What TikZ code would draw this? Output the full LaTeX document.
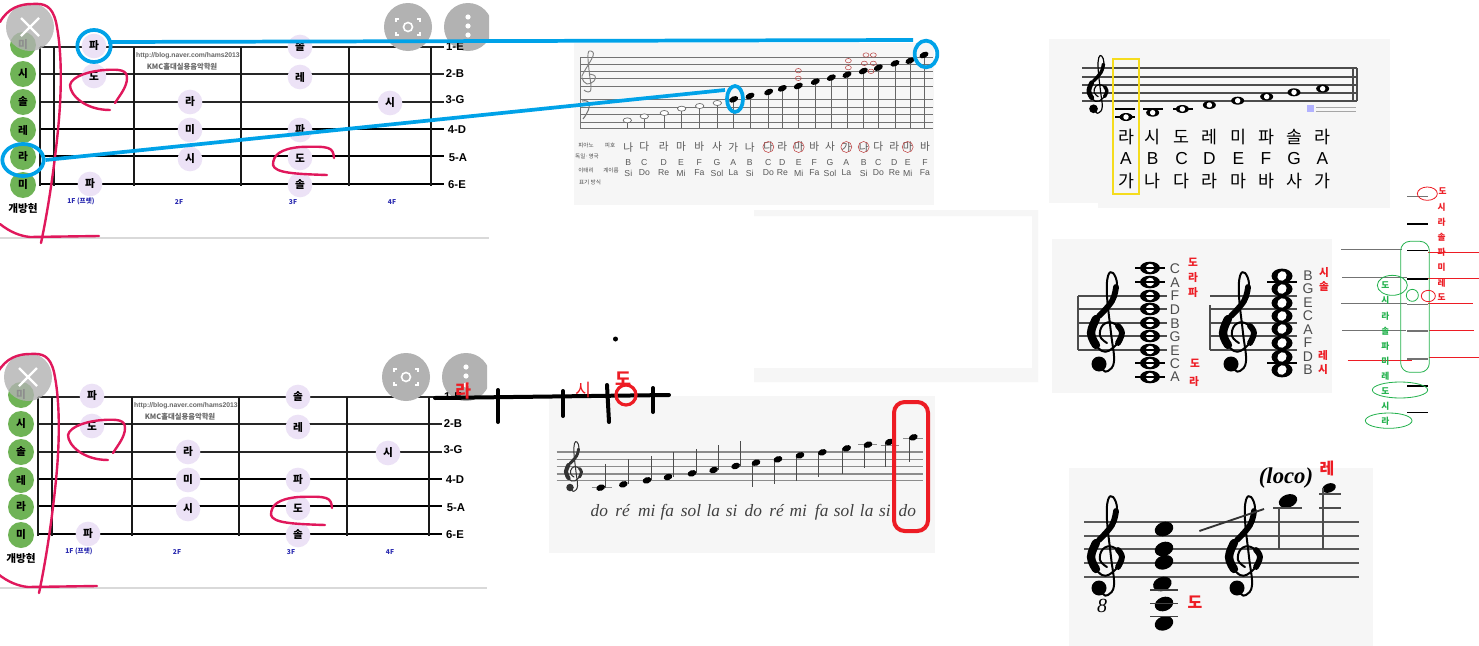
\documentclass[tikz,border=0pt]{standalone}
\usepackage{fontspec}
\setmainfont{Liberation Sans}
\newfontfamily\kr{Noto Sans CJK KR}
\newfontfamily\srf{Liberation Serif}
\usetikzlibrary{shapes.geometric}
\definecolor{pinkpen}{HTML}{E0185C}
\definecolor{bluepen}{HTML}{00A2E8}
\definecolor{redpen}{HTML}{ED1C24}
\definecolor{greenpen}{HTML}{22B14C}
\definecolor{lav}{HTML}{ECE2F6}
\definecolor{opengreen}{HTML}{6FB356}
\definecolor{panel}{HTML}{F6F6F6}
\definecolor{btn}{HTML}{B2B2B2}
\definecolor{fretblue}{HTML}{2A2AB0}
\tikzset{
  strthin/.style={line width=0.9pt,black!85},
  strthick/.style={line width=1.5pt,black},
  fretline/.style={line width=1pt,black!90},
  opennote/.style={circle,fill=opengreen,minimum size=19.5pt,inner sep=0pt,font=\kr\bfseries\fontsize{8}{8}\selectfont},
  frnote/.style={circle,fill=lav,minimum size=18.5pt,inner sep=0pt,font=\kr\bfseries\fontsize{8}{8}\selectfont},
  strlab/.style={inner sep=0pt,font=\bfseries\fontsize{8.5}{9}\selectfont},
  fretlab/.style={inner sep=0pt,text=fretblue,font=\kr\bfseries\fontsize{5}{5}\selectfont},
  pinkstroke/.style={draw=pinkpen,line width=1.8pt,line cap=round,line join=round},
  bluestroke/.style={draw=bluepen,line width=2.8pt},
  bluering/.style={ellipse,draw=bluepen,line width=2.8pt,inner sep=0pt},
  button/.style={circle,fill=btn,minimum size=36pt,inner sep=0pt},
  blackstroke/.style={draw=black,line width=3pt,line cap=round},
  rednote/.style={inner sep=0pt,text=redpen,font=\kr\bfseries\fontsize{8.5}{9}\selectfont},
  greennote/.style={inner sep=0pt,text=greenpen,font=\kr\bfseries\fontsize{7}{7}\selectfont},
  hand/.style={inner sep=0pt,text=black!65,font=\kr\fontsize{8}{8}\selectfont},
  handtiny/.style={inner sep=0pt,text=black!70,font=\kr\fontsize{4.2}{4.2}\selectfont},
  handl/.style={inner sep=0pt,text=black!65,font=\fontsize{6.5}{7}\selectfont},
  solfa/.style={inner sep=0pt,anchor=base,text=black!75,font=\srf\itshape\fontsize{13}{13}\selectfont},
  krbig/.style={inner sep=0pt,font=\kr\fontsize{13}{13}\selectfont},
  latbig/.style={inner sep=0pt,font=\fontsize{13}{13}\selectfont},
  lets/.style={inner sep=0pt,text=black!70,font=\fontsize{10.5}{11}\selectfont}
}
% treble clef drawn as a shape: #1,#2 centre, #3 scale (1 = 100 px tall), #4 colour
\newcommand{\gclef}[4]{%
\begin{scope}[shift={(#1,#2)},scale=#3,line cap=round,line join=round,draw=#4,fill=#4]
 \draw[line width=#3*1.5pt] plot[smooth,tension=.7] coordinates {(-6,41) (-2,47) (3,48) (9,38) (6,10) (2,-27) (3,-47) (8,-50) (12,-38) (7,-22) (-10,-3) (-15,10) (-3,28) (10,23) (17,10) (8,0) (-2,2) (-5,13) (2,20)};
 \draw[line width=#3*4.4pt] plot[smooth,tension=.7] coordinates {(11,-36) (7,-22) (-6,-7)};
 \draw[line width=#3*6.2pt] plot[smooth,tension=.7] coordinates {(-9,-4) (-14,10) (-9,22)};
 \draw[line width=#3*4.4pt] plot[smooth,tension=.7] coordinates {(13,20) (17,10) (13,3)};
 \fill (-6,41) circle (7.5);
\end{scope}}
% whole note: #1,#2 centre, #3,#4 half axes
\newcommand{\wn}[4]{%
 \fill[black] (#1,#2) ellipse (#3 and #4);
 \fill[white,rotate around={-35:(#1,#2)}] (#1,#2) ellipse ({#3*.42} and {#4*.68});}
\newcommand{\fretboard}[3]{%
\begin{scope}[shift={(#2,#3)}]
 \foreach \y in {47,74,102} \draw[strthin] (40,\y) -- (444,\y);
 \foreach \y in {129,156,184} \draw[strthick] (40,\y) -- (444,\y);
 \foreach \x in {40,54,134,241,349,431} \draw[fretline] (\x,47) -- (\x,186);
 \foreach \y/\t [count=\i] in {45/미,74/시,102/솔,130/레,157/라,185/미}
   \node[opennote] (#1o\i) at (23,\y) {\t};
 \foreach \x/\y/\t [count=\i] in {94/46/파,94/76/도,300/47/솔,300/77/레,190/102/라,390/103/시,190/130/미,300/130/파,190/159/시,300/158/도,90/184/파,300/185/솔}
   \node[frnote] (#1f\i) at (\x,\y) {\t};
 \node[inner sep=0pt,text=black!60,font=\bfseries\fontsize{5.1}{6}\selectfont] (#1url) at (188,56) {http://blog.naver.com/hams2013};
 \node[inner sep=0pt,text=black!60,font=\kr\bfseries\fontsize{5.5}{6}\selectfont] (#1kmc) at (182,67) {KMC홀대실용음악학원};
 \node[inner sep=0pt,font=\kr\bfseries\fontsize{8}{8}\selectfont] (#1open) at (23,208) {개방현};
 \node[fretlab] (#1a) at (81,201) {1F (프렛)};
 \node[fretlab] (#1b) at (179,202) {2F};
 \node[fretlab] (#1c) at (293,202) {3F};
 \node[fretlab] (#1d) at (392,202) {4F};
 \draw[black!15,line width=1pt] (0,238) -- (489,238);
 \node[button,fill opacity=0.8] (#1x) at (30,27) {};
 \draw[white,line width=1.6pt] (21,18) -- (39,36) (39,18) -- (21,36);
 \node[button] (#1lens) at (408,27) {};
 \draw[white,line width=1.2pt] (399,19) -- (396,19) -- (396,22) (417,19) -- (420,19) -- (420,22) (399,35) -- (396,35) -- (396,32) (417,35) -- (420,35) -- (420,32);
 \draw[white,line width=1.2pt] (408,27) circle (4.5);
 \begin{scope}
  \clip (440,0) rectangle (489,60);
  \node[button] (#1more) at (468,27) {};
 \end{scope}
 \fill[white] (468,17) circle (2.6) (468,26) circle (2.6) (468,35) circle (2.6);
 \foreach \y/\t/\x [count=\i] in {47/1-E/455,74/2-B/455,100/3-G/455,130/4-D/457,158/5-A/458,185/6-E/457}
   \node[strlab,anchor=center] (#1s\i) at (\x,\y) {\t};
 \draw[pinkstroke] (0,22) .. controls (8,8) and (20,4) .. (32,4) .. controls (45,3) and (52,6) .. (56,22) .. controls (62,50) and (62,90) .. (58,130) .. controls (54,170) and (48,210) .. (41,243);
 \draw[pinkstroke] (0,224) .. controls (10,232) and (20,236) .. (30,237) -- (99,236);
 \draw[pinkstroke] (115,103) .. controls (120,95) and (127,87) .. (127,78) .. controls (127,70) and (120,69) .. (105,70) .. controls (90,71) and (72,76) .. (70,85) .. controls (70,95) and (85,110) .. (110,110);
 \draw[pinkstroke] (334,158) .. controls (333,147) and (330,146) .. (300,147) .. controls (280,149) and (273,155) .. (273,165) .. controls (275,173) and (295,174) .. (327,175);
\end{scope}}
\begin{document}
\begin{tikzpicture}[x=0.75pt,y=-0.75pt]
\useasboundingbox (0,0) rectangle (1479,646);
\fill[white] (0,0) rectangle (1479,646);
% pale frame
\fill[panel] (754,210) rectangle (1038,216) (1032,210) rectangle (1038,382) (754,368) rectangle (1038,382);
% panels
\fill[panel] (574,43) rectangle (934,205);
\fill[panel] (1049,39) rectangle (1390,208);
\fill[white] (1049,203) rectangle (1098,212);
\fill[panel] (1052,239) rectangle (1332,393);
\fill[panel] (549,396) rectangle (935,553);
\fill[panel] (1069,468) rectangle (1373,646);
% fretboards
\fretboard{t}{0}{0}
\fretboard{b}{-2}{350}
% handwritten staves
\foreach \y in {57,64,71,78,86,99,107,114,122,128} \draw[black!55,line width=0.5pt] (580,\y) -- (933,\y);
\draw[black!55,line width=0.5pt] (580,57) -- (580,128);
\begin{scope}[line width=.5pt]
\draw[black!50,line width=.7pt] plot[smooth,tension=.7] coordinates {(584,90) (588,92) (591,88) (589,70) (588,54) (591,51) (593,56) (584,72) (582,78) (587,84) (594,81) (595,76) (589,74)};
\end{scope}
\draw[black!55,line width=.8pt] (582,101) .. controls (590,99) and (593,106) .. (583,119);
\fill[black!55] (584,104) circle (1.5);
\foreach \x/\y in {172/271,223/259,283/249,335/236,389/228,442/219} {
  \draw[black!60,line width=0.4pt] ({570+\x/3},{30+\y/3}) -- ({570+\x/3},128);
  \draw[black!60,line width=0.5pt,fill=white] ({570+\x/3},{30+\y/3}) ellipse (4.2 and 2.5);}
\foreach \x/\y in {491/208,540/198,596/186,637/175,685/168,736/155,784/143,831/134,880/123,925/113,975/100,1020/92,1062/75} {
  \draw[black!60,line width=0.4pt] ({570+\x/3},{30+\y/3}) -- ({570+\x/3},128);
  \fill[black,rotate around={25:({570+\x/3},{30+\y/3})}] ({570+\x/3},{30+\y/3}) ellipse (4.8 and 2.9);}
\foreach \x/\y in {685/122,685/145,835/92,835/113,888/75,883/100,910/75,910/100,903/124}
  \draw[red!45!gray,line width=0.4pt] ({570+\x/3},{30+\y/3}) ellipse (3 and 2.2);
\foreach \x/\a/\b/\c [count=\i] in {175/나/B/Si,223/다/C/Do,281/라/D/Re,333/마/E/Mi,388/바/F/Fa,441/사/G/Sol,490/가/A/La,539/나/B/Si,595/다/C/Do,637/라/D/Re,686/마/E/Mi,733/바/F/Fa,780/사/G/Sol,829/가/A/La,881/나/B/Si,925/다/C/Do,973/라/D/Re,1013/마/E/Mi,1065/바/F/Fa} {
  \node[hand] (ha\i) at ({570+\x/3},147) {\a};
  \node[handl] (hb\i) at ({570+\x/3},163) {\b};
  \node[handl] (hc\i) at ({570+\x/3},173) {\c};}
\node[handtiny] (hl1) at (586,145) {피아노};
\node[handtiny] (hl2) at (610,145) {피호};
\node[handtiny] (hl3) at (587,156) {독일·영국};
\node[handtiny] (hl4) at (586,170) {이태리};
\node[handtiny] (hl5) at (611,170) {계이름};
\node[handtiny] (hl6) at (590,182) {표기 방식};
\foreach \x in {595,686,829,881,1013} \draw[red!50!gray,line width=0.4pt] ({570+\x/3},147) circle (5.5);
% top right scale
\foreach \y in {68,77,85,93,101} \draw[black!70,line width=1.1pt] (1082,\y) -- (1357,\y);
\draw[black!70,line width=.8pt] (1353,68) -- (1353,101); \draw[black!70,line width=1.6pt] (1357,68) -- (1357,101);
\gclef{1097}{85}{.58}{black}
\draw[black,line width=.9pt] (1115,109) -- (1135,109) (1143,109) -- (1163,109) (1173,109) -- (1193,109) (1115,117) -- (1135,117);
\foreach \x/\y in {258/261,338/248,427/237,508/225,593/212,680/200,762/187,848/176}
  \wn{{1040+\x/3}}{{30+\y/3}}{6.5}{4};
\fill[blue!30] (1307,105) rectangle (1314,112);
\foreach \y in {107,111} \draw[black!35,line width=.4pt] (1316,\y) -- (1356,\y);
\foreach \x/\a/\b/\c [count=\i] in {258/라/A/가,338/시/B/나,425/도/C/다,508/레/D/라,595/미/E/마,678/파/F/바,762/솔/G/사,847/라/A/가} {
  \node[krbig] (sa\i) at ({1040+\x/3},137) {\a};
  \node[latbig] (sb\i) at ({1040+\x/3},159) {\b};
  \node[krbig] (sc\i) at ({1040+\x/3},181) {\c};}
\draw[draw={rgb,255:red,245;green,220;blue,30},line width=1.2pt] (1113,59) rectangle (1139,194);
% middle right staves
\foreach \y in {296,309,323,336,350} \draw[black!70,line width=1.2pt] (1078,\y) -- (1167,\y);
\draw[black!70,line width=1.2pt] (1078,296) -- (1078,350);
\foreach \y in {296,309,323,336,350} \draw[black!70,line width=1.2pt] (1210,\y) -- (1297,\y);
\draw[black!70,line width=1.2pt] (1210,305) -- (1210,350);
\gclef{1105}{323}{1}{black}
\gclef{1237}{323}{1}{black}
\foreach \y in {268,282,363,377} \draw[black,line width=1pt] (1135,\y) -- (1165,\y);
\foreach \y in {282,363} \draw[black,line width=1pt] (1267,\y) -- (1297,\y);
\foreach \y in {268,282,296,309,323,336,350,363,377} {\wn{1150}{\y}{10}{6.3}\draw[black,line width=.8pt] (1140,\y) -- (1160,\y);}
\foreach \y in {276,289,303,316,329,343,357,370} \wn{1282}{\y}{10.5}{7.4};
\foreach \t/\y [count=\i] in {C/269,A/283,F/296,D/310,B/324,G/337,E/351,C/364,A/377} \node[lets] (la\i) at (1175,\y) {\t};
\foreach \t/\y [count=\i] in {B/276,G/289,E/303,C/316,A/330,F/343,D/357,B/370} \node[lets] (lb\i) at (1308,\y) {\t};
\foreach \t/\x/\y [count=\i] in {도/1193/262,라/1193/278,파/1193/293,도/1195/363,라/1194/382,시/1324/273,솔/1324/287,레/1323/355,시/1323/370}
  \node[rednote,font=\kr\bfseries\fontsize{8}{8}\selectfont] (rr\i) at (\x,\y) {\t};
% far right
\foreach \y/\c in {50/black!55,132/black,212/black,297/black,373/black!55,453/black!55,537/black!55,618/black,698/black}
  \draw[\c,line width=1.2pt] ({1330+232/3},{180+\y/3}) -- ({1330+295/3},{180+\y/3});
\foreach \a/\y/\b in {33/208/215,36/292/232,33/370/232,36/450/228}
  \draw[black!55,line width=.6pt] ({1330+\a/3},{180+\y/3}) -- ({1330+\b/3},{180+\y/3});
\foreach \a/\y/\b in {295/216/447,295/295/447,295/370/428,298/450/432,298/532/447,53/541/245}
  \draw[redpen,line width=.7pt] ({1330+\a/3},{180+\y/3}) -- ({1330+\b/3},{180+\y/3});
\draw[greenpen,line width=.6pt,rounded corners=7pt] ({1330+212/3},{180+184/3}) rectangle ({1330+298/3},{180+577/3});
\foreach \x/\y/\w/\h [count=\i] in {187/316/45/30,247/346/18/18,210/630/83/24,176/722/70/23}
  \draw[greenpen,line width=.6pt] ({1330+\x/3},{180+\y/3}) ellipse ({\w/3} and {\h/3});
\foreach \x/\y/\w/\h in {292/41/30/20,295/348/21/17}
  \draw[redpen,line width=.6pt] ({1330+\x/3},{180+\y/3}) ellipse ({\w/3} and {\h/3});
\foreach \t/\x/\y [count=\i] in {도/338/33,시/335/82,라/335/127,솔/335/173,파/335/218,미/335/263,레/335/310,도/335/350}
  \node[rednote,font=\kr\bfseries\fontsize{6.5}{7}\selectfont] (fr\i) at ({1330+\x/3},{180+\y/3}) {\t};
\foreach \t/\y [count=\i] in {도/316,시/362,라/408,솔/455,파/500,미/545,레/590,도/632,시/679,라/725}
  \node[greennote,font=\kr\bfseries\fontsize{6.5}{7}\selectfont] (fg\i) at ({1330+166/3},{180+\y/3}) {\t};
% bottom right
\foreach \y in {522,536,549,563,577} \draw[black!65,line width=1.1pt] (1084,\y) -- (1359,\y);
\gclef{1105}{547}{1}{black}
\gclef{1243}{547}{1}{black}
\node[inner sep=0pt,font=\srf\itshape\fontsize{15}{15}\selectfont] (eight) at (1102,606) {8};
\foreach \x/\y in {312/207,312/267,312/307,307/372,312/432,312/490} \fill[black,rotate around={20:({1060+\x/3},{460+\y/3})}] ({1060+\x/3},{460+\y/3}) ellipse (9.5 and 7);
\foreach \y in {390,430,470} \draw[black!75,line width=1pt] ({1060+270/3},{460+\y/3}) -- ({1060+355/3},{460+\y/3});
\draw[black!80,line width=1.4pt] ({1060+418/3},{460+213/3}) -- ({1060+612/3},{460+147/3});
\node[inner sep=0pt,font=\srf\bfseries\itshape\fontsize{17}{17}\selectfont] (loco) at (1286,478) {(loco)};
\fill[black,rotate around={20:(1288,501)}] (1288,501) ellipse (9.5 and 6.5);
\fill[black,rotate around={20:(1329,488)}] (1329,488) ellipse (7 and 4.5);
\draw[black!70,line width=1pt] (1273,508) -- (1302,508) (1279,508) -- (1279,549) (1319,494) -- (1341,494) (1319,508) -- (1341,508) (1323,488) -- (1323,549);
\node[rednote,font=\kr\bfseries\fontsize{12}{12}\selectfont] (re) at (1327,468) {레};
\node[rednote,font=\kr\bfseries\fontsize{12}{12}\selectfont] (doB) at (1195,602) {도};
% bottom middle staff
\foreach \y in {396,418,440,462,482} \draw[black!45,line width=.8pt] ({430+380/3},{320+\y/3}) -- ({430+1478/3},{320+\y/3});
\gclef{573}{467}{.5}{black!80}
\foreach \a/\b/\y in {485/545/503,1285/1340/374,1352/1408/376,1420/1478/355}
  \draw[black!45,line width=.8pt] ({430+\a/3},{320+\y/3}) -- ({430+\b/3},{320+\y/3});
\foreach \x/\y/\sx/\sy in {512/503/525/432,580/493/594/418,651/481/665/408,714/471/730/395,786/460/800/388,851/450/864/375,917/438/931/364,978/428/968/502,1044/418/1033/492,1110/406/1100/482,1177/397/1165/470,1250/385/1238/462,1314/374/1302/445,1378/366/1367/440,1450/352/1438/427} {
  \draw[black!70,line width=.6pt] ({430+\sx/3},{320+\y/3}) -- ({430+\sx/3},{320+\sy/3});
  \fill[black,rotate around={20:({430+\x/3},{320+\y/3})}] ({430+\x/3},{320+\y/3}) ellipse (4.5 and 3.1);}
\foreach \x/\t [count=\i] in {508/do,578/ré,650/mi,712/fa,783/sol,850/la,905/si,970/do,1040/ré,1105/mi,1175/fa,1242/sol,1310/la,1365/si,1432/do}
  \node[solfa] (sf\i) at ({430+\x/3},516) {\t};
\draw[redpen,line width=3pt,rounded corners=8pt] (894,402) rectangle (928,531);
% pen marks
\draw[blackstroke] (435,398) -- (669,395);
\draw[blackstroke] (498,390) -- (498,422);
\draw[blackstroke] (563,391) -- (563,416);
\draw[blackstroke] (607,385) -- (609,422);
\draw[blackstroke] (653,388) -- (653,412);
\fill[black] (615.5,339) circle (2.5);
\draw[redpen,line width=2.4pt] (626,395) circle (10);
\node[rednote,font=\kr\bfseries\fontsize{13}{13}\selectfont] (la) at (463,391) {라};
\node[rednote,font=\kr\fontsize{13}{13}\selectfont] (si) at (583,390) {시};
\node[rednote,font=\kr\bfseries\fontsize{13}{13}\selectfont] (doC) at (623,379) {도};
% blue links
\node[bluering,minimum width=25pt,minimum height=24pt] (rA) at (94,46) {};
\node[bluering,minimum width=31pt,minimum height=24pt] (rB) at (23,160) {};
\node[bluering,minimum width=12pt,minimum height=19.5pt] (rC) at (735,99) {};
\node[bluering,minimum width=17pt,minimum height=20pt] (rD) at (926,54) {};
\coordinate (s1) at (108,42);
\coordinate (e1) at (913,40);
\coordinate (e2) at (725,90);
\draw[bluestroke] (s1) -- (e1);
\draw[bluestroke] (rB.east) -- (e2);
\end{tikzpicture}
\end{document}
